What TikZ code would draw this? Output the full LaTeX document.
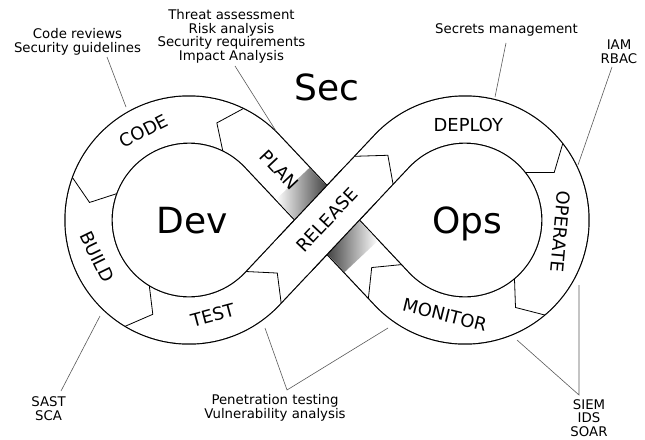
\documentclass[tikz,border=0pt]{standalone}
\usepackage{fontspec}
\setmainfont{DejaVu Sans}
\usetikzlibrary{calc}

\tikzset{
  loop/.style={draw=black, line width=1.2pt, double=white, double distance=46pt, line join=round},
  divider/.style={line width=0.8pt},
  stage/.style={font=\fontsize{17.9}{20}\selectfont, inner sep=0pt},
  title/.style={font=\fontsize{36}{40}\selectfont, inner sep=0pt, anchor=base},
  note/.style={font=\fontsize{13.3}{13.5}\selectfont, align=center, inner sep=0pt},
  leader/.style={draw=black!65, line width=0.6pt},
}

\begin{document}
\begin{tikzpicture}[x=1pt, y=1pt]
\useasboundingbox (0,0) rectangle (645,-439);

% centres of the two loops and the crossing
\coordinate (L) at (189,-220);
\coordinate (R) at (465,-220);
\coordinate (C) at (327,-220);
\coordinate (lu) at ($(L)+(43.25:100.5)$);
\coordinate (ll) at ($(L)+(-43.25:100.5)$);
\coordinate (ru) at ($(R)+(136.75:100.5)$);
\coordinate (rl) at ($(R)+(223.25:100.5)$);

% the band
\draw[loop] (lu) arc[start angle=43.25, end angle=316.75, radius=100.5] -- (ru)
  arc[start angle=136.75, end angle=-136.75, radius=100.5] -- cycle;

% shadow under the release band
\begin{scope}[shift={(C)}, rotate=-46.75]
\shade[left color=white, right color=black!80] (-50,-23) rectangle (-18,23);
\shade[left color=black!80, right color=white] (18,-23) rectangle (50,23);
\end{scope}

% release band on top (white runs a little longer to hide the seam)
\draw[black, line width=48.4pt] ($(ll)!0.25!(ru)$) -- ($(ll)!0.75!(ru)$);
\draw[white, line width=46pt] ($(ll)!0.22!(ru)$) -- ($(ll)!0.78!(ru)$);

% dividers
\begin{scope}[shift={(L)}]
\draw[divider] (64:124) -- (74:101) -- (64:77);
\draw[divider] (160:124) -- (170:101) -- (160:77);
\draw[divider] (239:124) -- (249:101) -- (239:77);
\draw[divider] (318:124) -- (329:103) -- (318:77);
\end{scope}
\begin{scope}[shift={(R)}]
\draw[divider] (150:127.4) -- (140:100.7) -- (153.5:80.4);
\draw[divider] (38:124) -- (28:101) -- (38:77);
\draw[divider] (-50:124) -- (-60:101) -- (-50:77);
\draw[divider] (219:124.3) -- (207:104.7) -- (215:77.8);
\end{scope}

% stages
\node[stage, rotate=27] (code) at ($(L)+(117:100)$) {CODE};
\node[stage, rotate=-64] (build) at ($(L)+(202:99)$) {BUILD};
\node[stage, rotate=15] (test) at ($(L)+(284:98)$) {TEST};
\node[stage, rotate=-46.75] (plan) at ($(C)+(133.25:69)$) {PLAN};
\node[stage, rotate=46.75] (release) at (C) {RELEASE};
\node[stage] (deploy) at ($(R)+(88:95)$) {DEPLOY};
\node[stage, rotate=-95] (operate) at ($(R)+(-7:96)$) {OPERATE};
\node[stage, rotate=-14] (monitor) at ($(R)+(258:97)$) {MONITOR};

% titles
\node[title] (sec) at (327,-100) {Sec};
\node[title] (dev) at (192,-233) {Dev};
\node[title] (ops) at (467,-233) {Ops};

% notes
\node[note] (reviews) at (77.5,-42) {Code reviews\\Security guidelines};
\node[note] (threat) at (231.5,-36.4) {Threat assessment\\Risk analysis\\Security requirements\\Impact Analysis};
\node[note] (secrets) at (506.5,-29.5) {Secrets management};
\node[note] (iam) at (619,-51.5) {IAM\\RBAC};
\node[note] (sast) at (48.5,-408.5) {SAST\\SCA};
\node[note] (pentest) at (275,-408) {Penetration testing\\Vulnerability analysis};
\node[note] (siem) at (589,-418) {SIEM\\IDS\\SOAR};

% leaders
\coordinate (reviews-a) at (107,-57);   \coordinate (reviews-b) at (126,-107);
\coordinate (threat-a) at (235,-66);    \coordinate (threat-b) at (276,-131);
\coordinate (secrets-a) at (506,-43);   \coordinate (secrets-b) at (495,-97);
\coordinate (iam-a) at (612,-67);       \coordinate (iam-b) at (578,-165);
\coordinate (sast-a) at (61,-391);      \coordinate (sast-b) at (100,-316);
\coordinate (pentest-a) at (287,-390);  \coordinate (pentest-b) at (265,-328);
\coordinate (pentest-c) at (388,-328);
\coordinate (siem-a) at (579,-395);     \coordinate (siem-b) at (517,-340);
\coordinate (siem-c) at (579,-285);

\draw[leader] (reviews-a) -- (reviews-b);
\draw[leader] (threat-a) -- (threat-b);
\draw[leader] (secrets-a) -- (secrets-b);
\draw[leader] (iam-a) -- (iam-b);
\draw[leader] (sast-a) -- (sast-b);
\draw[leader] (pentest-b) -- (pentest-a) -- (pentest-c);
\draw[leader] (siem-b) -- (siem-a) -- (siem-c);

\end{tikzpicture}
\end{document}
